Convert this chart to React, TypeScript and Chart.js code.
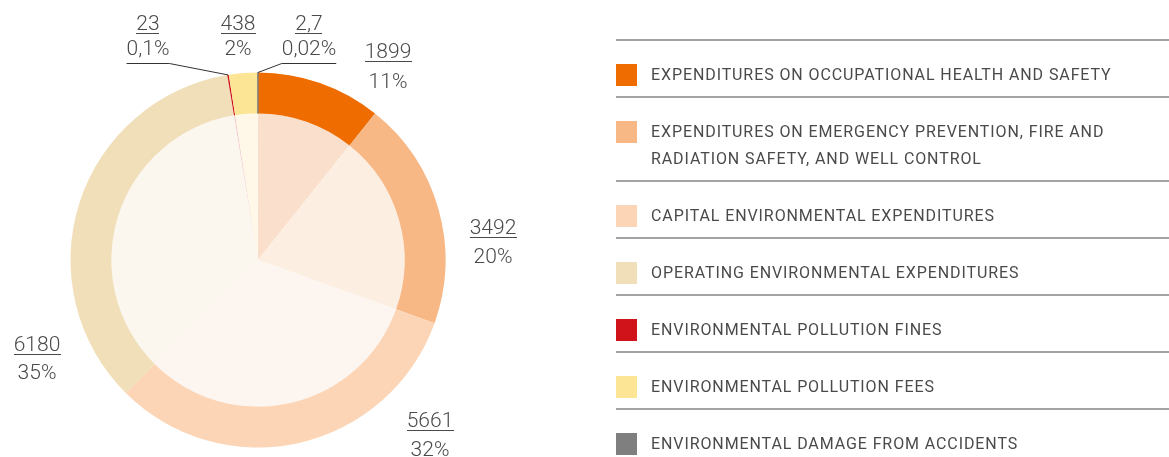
import React, { useEffect, useRef } from "react";
import { Chart, registerables } from "chart.js";

Chart.register(...registerables);

// ---- data ----
const CATEGORIES: string[] = [
  "EXPENDITURES ON OCCUPATIONAL HEALTH AND SAFETY",
  "EXPENDITURES ON EMERGENCY PREVENTION, FIRE AND RADIATION SAFETY, AND WELL CONTROL",
  "CAPITAL ENVIRONMENTAL EXPENDITURES",
  "OPERATING ENVIRONMENTAL EXPENDITURES",
  "ENVIRONMENTAL POLLUTION FINES",
  "ENVIRONMENTAL POLLUTION FEES",
  "ENVIRONMENTAL DAMAGE FROM ACCIDENTS",
];
const VALUES: number[] = [1899, 3492, 5661, 6180, 23, 438, 2.7];
const VALUE_LABELS: string[] = ["1899", "3492", "5661", "6180", "23", "438", "2,7"];
const SHARE_LABELS: string[] = ["11%", "20%", "32%", "35%", "0,1%", "2%", "0,02%"];

// ---- styles ----
const OUTER_COLORS = ["#EE6C00", "#F7B886", "#FCD5B6", "#F1DFB9", "#D0121A", "#FDE596", "#7F7F7F"];
const INNER_COLORS = ["#FAE0CC", "#FCEFE2", "#FDF5EF", "#FBF6EE", "#F3C9C9", "#FFF8E8", "#E6E6E6"];
const OUTER_BORDER = [0, 0, 0, 0, 0, 0, 1];

// label placement relative to the pie centre: value-text centre x, value baseline y
const LABEL_OFFSETS: [number, number][] = [
  [130, -202],
  [235, -26],
  [172, 167],
  [-221, 91],
  [-110, -230],
  [-20, -230],
  [51, -230],
];
const LABEL_GAPS = [30, 29, 29, 28, 25, 25, 25];
const LEADER_SIDE: (null | "left" | "right")[] = [null, null, null, null, "right", null, "left"];

const TEXT_COLOR = "#4a4a4a";

const labelPlugin = {
  id: "sliceLabels",
  afterDraw(chart: any) {
    const ctx: CanvasRenderingContext2D = chart.ctx;
    const meta = chart.getDatasetMeta(0);
    const first = meta.data[0] as any;
    const cx = first.x;
    const cy = first.y;
    ctx.save();
    ctx.font = "300 21px Roboto";
    ctx.fillStyle = TEXT_COLOR;
    ctx.textAlign = "center";
    ctx.textBaseline = "alphabetic";
    for (let i = 0; i < VALUES.length; i++) {
      const [dx, dy] = LABEL_OFFSETS[i];
      const x = cx + dx;
      const y = cy + dy;
      ctx.fillStyle = TEXT_COLOR;
      ctx.fillText(VALUE_LABELS[i], x, y);
      const w = ctx.measureText(VALUE_LABELS[i]).width;
      ctx.fillRect(Math.round(x - w / 2), Math.round(y + 3), Math.round(w), 1);
      const py = y + LABEL_GAPS[i];
      ctx.fillText(SHARE_LABELS[i], x, py);
      const side = LEADER_SIDE[i];
      if (side) {
        const pw = ctx.measureText(SHARE_LABELS[i]).width;
        const ly = Math.round(py + 8) + 0.5;
        const x0 = x - pw / 2;
        const x1 = x + pw / 2;
        const arc = meta.data[i] as any;
        const mid = (arc.startAngle + arc.endAngle) / 2;
        const ax = cx + Math.cos(mid) * arc.outerRadius;
        const ay = cy + Math.sin(mid) * arc.outerRadius;
        ctx.strokeStyle = "#333333";
        ctx.lineWidth = 1;
        ctx.beginPath();
        ctx.moveTo(x0, ly);
        ctx.lineTo(x1, ly);
        const sx = side === "right" ? x1 : x0;
        ctx.moveTo(sx, ly);
        ctx.lineTo(ax, ay);
        ctx.stroke();
      }
    }
    ctx.restore();
  },
};

function Legend() {
  return (
    <div
      style={{
        position: "absolute",
        left: 616,
        top: 39,
        width: 553,
        fontFamily: "Roboto, sans-serif",
        fontSize: 16,
        fontWeight: 400,
        color: TEXT_COLOR,
        letterSpacing: 0.9,
      }}
    >
      {CATEGORIES.map((c, i) => (
        <div
          key={c}
          style={{
            borderTop: "2px solid #a3a3a3",
            paddingTop: 20,
            paddingBottom: 8,
            display: "flex",
            alignItems: "flex-start",
            lineHeight: "27px",
          }}
        >
          <div
            style={{
              width: 21,
              height: 22,
              marginTop: 2.5,
              background: OUTER_COLORS[i],
              flex: "0 0 auto",
            }}
          />
          <div style={{ marginLeft: 14, maxWidth: 480 }}>{c}</div>
        </div>
      ))}
    </div>
  );
}

export default function App() {
  const canvasRef = useRef<HTMLCanvasElement | null>(null);

  useEffect(() => {
    const canvas = canvasRef.current;
    if (!canvas) return;
    const chart = new Chart(canvas, {
      type: "pie",
      data: {
        labels: CATEGORIES,
        datasets: [
          {
            data: VALUES,
            backgroundColor: OUTER_COLORS,
            borderColor: OUTER_COLORS,
            borderWidth: OUTER_BORDER,
            weight: 41,
          } as any,
          {
            data: VALUES,
            backgroundColor: INNER_COLORS,
            borderWidth: 0,
            weight: 147,
          } as any,
        ],
      },
      options: {
        animation: false,
        responsive: false,
        devicePixelRatio: 1,
        layout: { padding: { left: 70, right: 723, top: 72, bottom: 9 } },
        plugins: {
          legend: { display: false },
          tooltip: { enabled: false },
        },
        events: [],
      } as any,
      plugins: [labelPlugin],
    });
    return () => chart.destroy();
  }, []);

  return (
    <div
      style={{
        position: "absolute",
        left: 0,
        top: 0,
        width: 1169,
        height: 457,
        overflow: "hidden",
        background: "#ffffff",
      }}
    >
      <canvas
        ref={canvasRef}
        width={1169}
        height={457}
        style={{ position: "absolute", left: 0, top: 0, width: 1169, height: 457 }}
      />
      <Legend />
    </div>
  );
}
